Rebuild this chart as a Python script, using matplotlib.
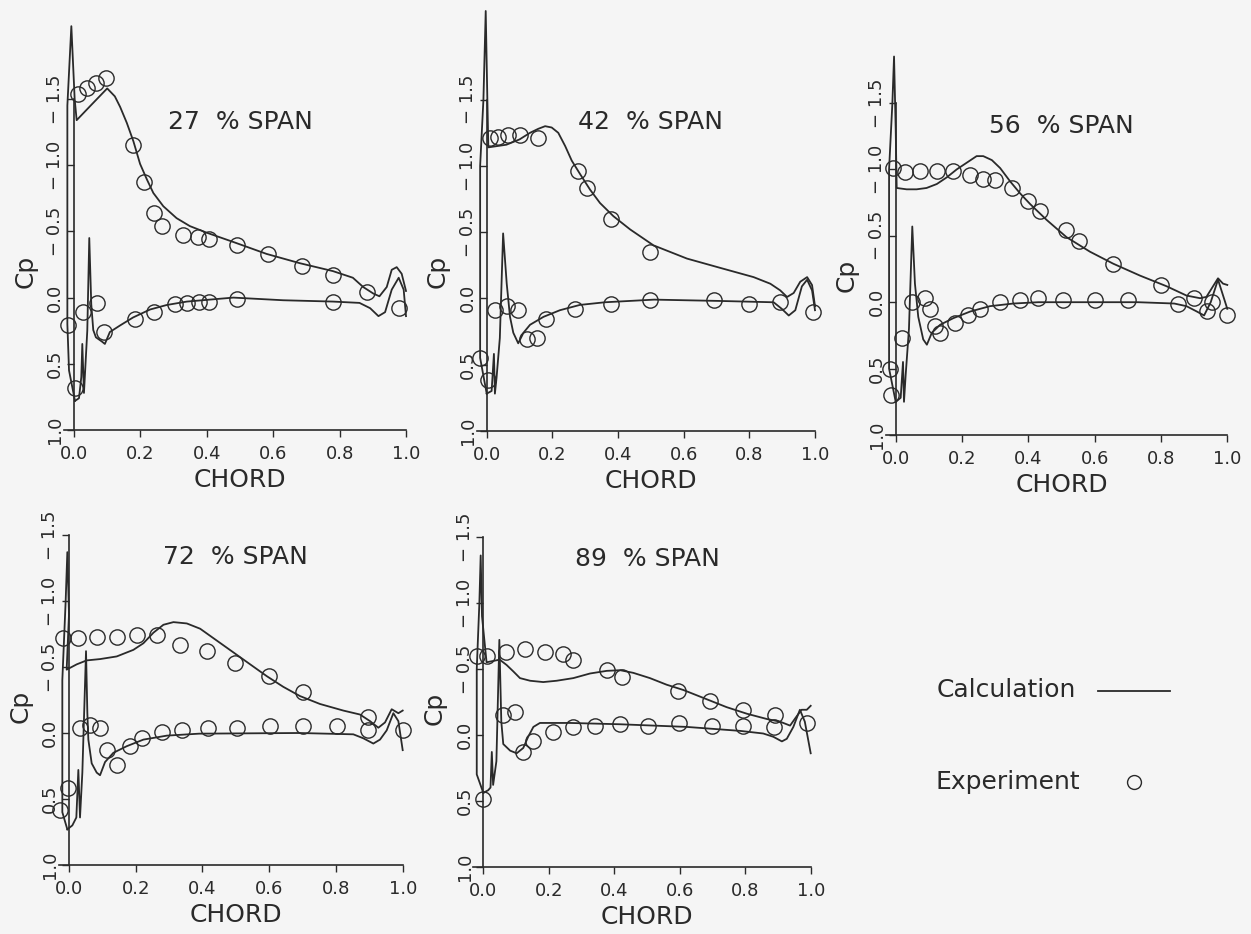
"""Pressure distributions (Cp vs chord) at five span stations: calculation vs experiment."""

import matplotlib.pyplot as plt
from matplotlib.lines import Line2D


SPANS = [27, 42, 56, 72, 89]

# ---- 27 % span ----
S27_EXP_X = [-0.017, 0.003, 0.013, 0.038, 0.066, 0.096, 0.028, 0.068, 0.09, 0.179, 0.211, 0.241,
             0.264, 0.327, 0.374, 0.408, 0.49, 0.585, 0.686, 0.781, 0.884, 0.978, 0.184, 0.24,
             0.304, 0.34, 0.377, 0.408, 0.49, 0.781]
S27_EXP_CP = [0.21, 0.68, -1.54, -1.58, -1.62, -1.66, 0.11, 0.04, 0.26, -1.15, -0.875, -0.64,
              -0.54, -0.47, -0.46, -0.44, -0.40, -0.33, -0.24, -0.17, -0.045, 0.08, 0.16, 0.11,
              0.05, 0.04, 0.03, 0.03, 0.01, 0.03]
S27_UP_X = [0.003, -0.015, -0.02, -0.02, -0.008, 0.002, 0.008, 0.05, 0.10, 0.123, 0.139, 0.159,
            0.179, 0.199, 0.22, 0.239, 0.269, 0.309, 0.349, 0.40, 0.48, 0.58, 0.68, 0.78, 0.84,
            0.871, 0.902, 0.92, 0.942, 0.957, 0.972, 0.987, 1.0]
S27_UP_CP = [0.78, 0.55, 0.2, -1.45, -2.05, -1.5, -1.34, -1.45, -1.58, -1.52, -1.44, -1.32,
             -1.18, -1.01, -0.89, -0.79, -0.69, -0.60, -0.54, -0.49, -0.42, -0.33, -0.26, -0.20,
             -0.15, -0.08, -0.03, -0.01, -0.08, -0.21, -0.23, -0.18, -0.05]
S27_LO_X = [0.003, 0.015, 0.022, 0.025, 0.03, 0.04, 0.046, 0.052, 0.058, 0.066, 0.083, 0.093,
            0.108, 0.139, 0.178, 0.229, 0.279, 0.34, 0.48, 0.63, 0.78, 0.86, 0.892, 0.917,
            0.937, 0.957, 0.978, 0.993, 1.0]
S27_LO_CP = [0.78, 0.76, 0.6, 0.35, 0.72, 0.25, -0.45, 0.05, 0.245, 0.30, 0.33, 0.35, 0.26,
             0.21, 0.15, 0.09, 0.056, 0.03, 0.0, 0.02, 0.03, 0.04, 0.08, 0.14, 0.11, -0.06,
             -0.15, -0.06, 0.14]

# ---- 42 % span ----
S42_EXP_X = [-0.02, 0.005, 0.025, 0.063, 0.096, 0.122, 0.152, 0.181, 0.269, 0.378, 0.496, 0.691,
             0.798, 0.894, 0.994, 0.01, 0.035, 0.066, 0.10, 0.157, 0.279, 0.305, 0.378, 0.496]
S42_EXP_CP = [0.45, 0.62, 0.09, 0.06, 0.09, 0.31, 0.30, 0.16, 0.08, 0.04, 0.01, 0.01, 0.04, 0.03,
              0.10, -1.21, -1.22, -1.23, -1.23, -1.21, -0.96, -0.83, -0.60, -0.35]
S42_UP_X = [0.0, -0.02, -0.02, -0.01, -0.003, 0.002, 0.005, 0.06, 0.10, 0.132, 0.157, 0.178,
            0.198, 0.218, 0.239, 0.259, 0.284, 0.315, 0.345, 0.386, 0.437, 0.508, 0.61, 0.711,
            0.813, 0.864, 0.894, 0.915, 0.935, 0.955, 0.976, 0.991, 1.0]
S42_UP_CP = [0.72, 0.45, -1.0, -1.5, -2.17, -1.5, -1.14, -1.16, -1.20, -1.25, -1.28, -1.30,
             -1.29, -1.25, -1.15, -1.04, -0.94, -0.82, -0.72, -0.62, -0.52, -0.40, -0.30, -0.23,
             -0.16, -0.11, -0.06, -0.01, -0.04, -0.125, -0.16, -0.10, 0.06]
S42_LO_X = [0.0, 0.015, 0.022, 0.025, 0.03, 0.04, 0.05, 0.061, 0.071, 0.081, 0.096, 0.112,
            0.132, 0.173, 0.223, 0.284, 0.36, 0.51, 0.71, 0.874, 0.899, 0.92, 0.94, 0.96, 0.976,
            0.991, 1.0]
S42_LO_CP = [0.72, 0.7, 0.42, 0.72, 0.6, 0.3, -0.49, -0.11, 0.14, 0.26, 0.34, 0.26, 0.20, 0.14,
             0.09, 0.05, 0.03, 0.01, 0.02, 0.03, 0.08, 0.13, 0.09, -0.09, -0.14, -0.06, 0.09]

# ---- 56 % span ----
S56_EXP_X = [-0.007, 0.028, 0.073, 0.124, 0.174, 0.225, 0.264, 0.30, 0.35, 0.40, 0.435, 0.515,
             0.554, 0.654, 0.80, 0.90, 0.955, -0.017, -0.015, 0.018, 0.05, 0.088, 0.103, 0.118,
             0.134, 0.179, 0.219, 0.254, 0.315, 0.375, 0.43, 0.505, 0.60, 0.70, 0.85, 0.94, 1.0]
S56_EXP_CP = [-1.01, -0.98, -0.99, -0.99, -0.99, -0.96, -0.93, -0.92, -0.86, -0.76, -0.69, -0.54,
              -0.46, -0.29, -0.13, -0.03, 0.0, 0.50, 0.70, 0.27, 0.0, -0.03, 0.05, 0.18, 0.23,
              0.16, 0.10, 0.05, 0.0, -0.02, -0.03, -0.02, -0.02, -0.02, 0.01, 0.07, 0.10]
S56_UP_X = [0.0, -0.02, -0.02, -0.01, -0.005, 0.0, 0.003, 0.033, 0.063, 0.093, 0.124, 0.154,
            0.184, 0.214, 0.244, 0.264, 0.29, 0.315, 0.345, 0.375, 0.405, 0.455, 0.515, 0.586,
            0.656, 0.737, 0.817, 0.877, 0.918, 0.937, 0.957, 0.972, 0.987, 1.0]
S56_UP_CP = [0.75, 0.5, -1.0, -1.5, -1.85, -1.3, -0.86, -0.85, -0.85, -0.86, -0.89, -0.94,
             -1.0, -1.05, -1.10, -1.10, -1.07, -1.01, -0.91, -0.82, -0.74, -0.62, -0.49, -0.38,
             -0.29, -0.20, -0.12, -0.05, -0.03, -0.04, -0.12, -0.18, -0.14, -0.13]
S56_LO_X = [0.0, 0.015, 0.022, 0.025, 0.03, 0.04, 0.05, 0.058, 0.068, 0.083, 0.094, 0.109,
            0.134, 0.174, 0.225, 0.284, 0.355, 0.43, 0.73, 0.84, 0.877, 0.908, 0.93, 0.95,
            0.972, 1.0]
S56_LO_CP = [0.75, 0.72, 0.45, 0.75, 0.55, 0.2, -0.57, -0.14, 0.11, 0.28, 0.32, 0.23, 0.17,
             0.12, 0.07, 0.03, 0.01, 0.0, 0.0, 0.01, 0.03, 0.07, 0.10, 0.0, -0.17, 0.05]

# ---- 72 % span ----
S72_EXP_X = [-0.017, 0.028, 0.083, 0.143, 0.203, 0.263, 0.333, 0.415, 0.498, 0.60, 0.70, 0.897,
             -0.027, -0.002, 0.033, 0.063, 0.093, 0.113, 0.143, 0.183, 0.218, 0.278, 0.338, 0.418,
             0.503, 0.603, 0.702, 0.804, 0.897, 1.002]
S72_EXP_CP = [-0.72, -0.72, -0.73, -0.725, -0.74, -0.74, -0.67, -0.62, -0.53, -0.43, -0.31,
              -0.12, 0.58, 0.42, -0.035, -0.06, -0.035, 0.13, 0.24, 0.10, 0.04, -0.01, -0.02,
              -0.035, -0.035, -0.05, -0.05, -0.05, -0.02, -0.02]
S72_UP_X = [-0.005, -0.02, -0.02, -0.01, -0.005, 0.0, -0.007, 0.023, 0.053, 0.093, 0.143, 0.193,
            0.223, 0.253, 0.283, 0.313, 0.353, 0.393, 0.443, 0.493, 0.543, 0.593, 0.642, 0.692,
            0.752, 0.822, 0.872, 0.902, 0.927, 0.947, 0.967, 0.987, 1.0]
S72_UP_CP = [0.73, 0.6, -0.4, -1.0, -1.37, -0.9, -0.48, -0.52, -0.55, -0.56, -0.58, -0.63,
             -0.68, -0.76, -0.82, -0.84, -0.83, -0.79, -0.70, -0.61, -0.52, -0.43, -0.35, -0.28,
             -0.22, -0.17, -0.14, -0.09, -0.04, -0.08, -0.18, -0.15, -0.17]
S72_LO_X = [-0.005, 0.01, 0.022, 0.028, 0.033, 0.04, 0.051, 0.055, 0.058, 0.068, 0.083, 0.093,
            0.108, 0.133, 0.173, 0.223, 0.293, 0.39, 0.69, 0.852, 0.882, 0.912, 0.932, 0.952,
            0.972, 0.987, 1.0]
S72_LO_CP = [0.73, 0.7, 0.64, 0.28, 0.64, 0.3, -0.62, -0.15, 0.05, 0.23, 0.30, 0.32, 0.22, 0.15,
             0.10, 0.05, 0.02, 0.005, 0.0, 0.01, 0.04, 0.08, 0.05, -0.02, -0.15, -0.09, 0.13]

# ---- 89 % span ----
S89_EXP_X = [-0.02, 0.01, 0.07, 0.127, 0.188, 0.244, 0.275, 0.377, 0.423, 0.596, 0.693, 0.794,
             0.891, 0.0, 0.061, 0.097, 0.122, 0.153, 0.214, 0.275, 0.341, 0.418, 0.502, 0.599,
             0.698, 0.792, 0.888, 0.988]
S89_EXP_CP = [-0.60, -0.60, -0.63, -0.65, -0.63, -0.61, -0.57, -0.49, -0.44, -0.33, -0.26, -0.19,
              -0.15, 0.49, -0.15, -0.17, 0.13, 0.05, -0.02, -0.06, -0.07, -0.08, -0.07, -0.09,
              -0.07, -0.07, -0.06, -0.09]
S89_UP_X = [0.0, -0.02, -0.02, -0.012, -0.008, -0.004, 0.01, 0.05, 0.071, 0.092, 0.112, 0.143,
            0.183, 0.224, 0.275, 0.326, 0.377, 0.418, 0.458, 0.509, 0.56, 0.611, 0.672, 0.743,
            0.805, 0.866, 0.906, 0.937, 0.957, 0.972, 0.988, 1.0]
S89_UP_CP = [0.44, 0.3, -0.5, -1.0, -1.36, -0.9, -0.55, -0.57, -0.53, -0.48, -0.43, -0.41,
             -0.40, -0.41, -0.43, -0.465, -0.485, -0.49, -0.47, -0.43, -0.38, -0.34, -0.28,
             -0.21, -0.16, -0.12, -0.10, -0.07, -0.14, -0.19, -0.19, -0.22]
S89_LO_X = [0.0, 0.015, 0.022, 0.026, 0.03, 0.04, 0.049, 0.055, 0.061, 0.082, 0.102, 0.122,
            0.137, 0.153, 0.173, 0.265, 0.418, 0.621, 0.784, 0.855, 0.886, 0.912, 0.927, 0.947,
            0.967, 0.982, 1.0]
S89_LO_CP = [0.44, 0.42, 0.40, 0.13, 0.38, 0.2, -0.72, -0.1, 0.07, 0.12, 0.14, 0.10, 0.015,
             -0.06, -0.09, -0.09, -0.08, -0.06, -0.03, -0.01, 0.015, 0.05, 0.03, -0.06, -0.19,
             -0.1, 0.14]

Y_TICKS = [-1.5, -1.0, -0.5, 0.0, 0.5, 1.0]
X_TICKS = [0.0, 0.2, 0.4, 0.6, 0.8, 1.0]

# pixel anchors of each panel: x of chord 0, x of chord 1, y of Cp -1.5, y of Cp 1.0
PANEL_PX = [
    (74, 406, 99, 430),
    (486.7, 815, 99.7, 430.7),
    (895.7, 1227.3, 103, 435),
    (69, 402.7, 535, 865),
    (483.3, 810.7, 537, 866.7),
]

W, H = 1251, 934
INK = "#2a2a2a"
BG = "#f5f5f5"


def panel_rect(px, xlim, ylim):
    x0, x1, ym, yp = px
    sx = x1 - x0
    sy = (yp - ym) / 2.5
    left = x0 + xlim[0] * sx
    right = x0 + xlim[1] * sx
    bottom = ym + (ylim[0] + 1.5) * sy
    top = ym + (ylim[1] + 1.5) * sy
    return [left / W, 1 - bottom / H, (right - left) / W, (bottom - top) / H]


def cp_label(v):
    if v < 0:
        return "\u2212 " + f"{abs(v):.1f}"
    return f"{v:.1f}"


def main():
    plt.rcParams["font.family"] = "DejaVu Sans"
    fig = plt.figure(figsize=(W / 100, H / 100), dpi=100, facecolor=BG)

    data = [
        (S27_EXP_X, S27_EXP_CP, S27_UP_X, S27_UP_CP, S27_LO_X, S27_LO_CP),
        (S42_EXP_X, S42_EXP_CP, S42_UP_X, S42_UP_CP, S42_LO_X, S42_LO_CP),
        (S56_EXP_X, S56_EXP_CP, S56_UP_X, S56_UP_CP, S56_LO_X, S56_LO_CP),
        (S72_EXP_X, S72_EXP_CP, S72_UP_X, S72_UP_CP, S72_LO_X, S72_LO_CP),
        (S89_EXP_X, S89_EXP_CP, S89_UP_X, S89_UP_CP, S89_LO_X, S89_LO_CP),
    ]

    xlim = (-0.06, 1.04)
    for i, (span, px, d) in enumerate(zip(SPANS, PANEL_PX, data)):
        ylim = (1.0, -2.25) if i < 3 else (1.0, -1.75)
        ax = fig.add_axes(panel_rect(px, xlim, ylim))
        ax.patch.set_visible(False)
        ex, ecp, ux, ucp, lx, lcp = d

        ax.plot(ux, ucp, color=INK, lw=1.3, clip_on=False)
        ax.plot(lx, lcp, color=INK, lw=1.3, clip_on=False)
        ax.plot(ex, ecp, "o", ms=11, mfc="none", mec=INK, mew=1.0, clip_on=False)

        ax.set_xlim(xlim)
        ax.set_ylim(ylim)
        for s in ("top", "right"):
            ax.spines[s].set_visible(False)
        ax.spines["left"].set_position(("data", 0.0))
        ax.spines["left"].set_bounds(-1.5, 1.0)
        ax.spines["bottom"].set_bounds(-0.03, 1.0)
        for s in ("left", "bottom"):
            ax.spines[s].set_color(INK)
            ax.spines[s].set_linewidth(1.2)

        ax.set_xticks(X_TICKS)
        ax.set_xticklabels([f"{v:.1f}" for v in X_TICKS])
        ax.set_yticks(Y_TICKS)
        ax.set_yticklabels([cp_label(v) for v in Y_TICKS], rotation=90, va="center")
        ax.tick_params(axis="x", direction="out", length=5, width=1, pad=6,
                       labelsize=13, colors=INK)
        ax.tick_params(axis="y", direction="out", length=5, width=1, pad=2,
                       labelsize=13, colors=INK)

        ax.text(0.5, -1.33, f"{span}  % SPAN", ha="center", va="center",
                fontsize=18, color=INK)
        ax.annotate("CHORD", xy=(0.5, 1.0), xytext=(0, -36), textcoords="offset points",
                    ha="center", va="center", fontsize=18, color=INK)
        ax.annotate("Cp", xy=(0.0, -0.2), xytext=(-35, 0), textcoords="offset points",
                    ha="center", va="center", rotation=90, fontsize=18, color=INK)

    # legend
    fig.text(937 / W, 1 - 690 / H, "Calculation", ha="left", va="center",
             fontsize=18, color=INK)
    fig.text(935 / W, 1 - 782 / H, "Experiment", ha="left", va="center",
             fontsize=18, color=INK)
    fig.add_artist(Line2D([1098 / W, 1170 / W], [1 - 691 / H, 1 - 691 / H],
                          color=INK, lw=1.3))
    fig.add_artist(Line2D([1134 / W], [1 - 782 / H], marker="o", ms=10,
                          mfc="none", mec=INK, mew=1.0))

    fig.savefig("out.png", dpi=100, facecolor=BG)


if __name__ == "__main__":
    main()
